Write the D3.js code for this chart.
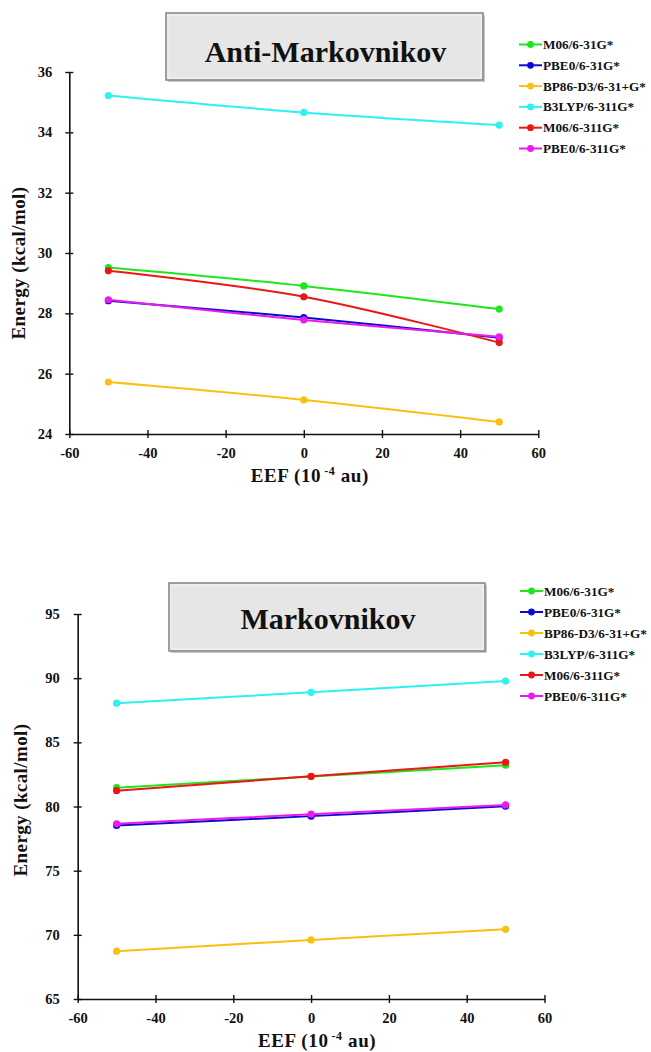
<!DOCTYPE html>
<html><head><meta charset="utf-8">
<script src="https://cdn.jsdelivr.net/npm/d3@7/dist/d3.min.js"></script>
<style>
html,body{margin:0;padding:0;background:#fff;}
svg{display:block;}
text{font-family:"Liberation Serif","Times New Roman",serif;font-weight:bold;fill:#111;}
</style></head>
<body>
<svg id="chart" width="651" height="1052"></svg>
<script>
const xValues = [-50, 0, 50];
const seriesNames = ["M06/6-31G*", "PBE0/6-31G*", "BP86-D3/6-31+G*", "B3LYP/6-311G*", "M06/6-311G*", "PBE0/6-311G*"];
const seriesColors = ["#1de61d", "#0a0ad2", "#fbbf14", "#2ef2f2", "#ec1616", "#ec1aec"];
const xTicks = [-60, -40, -20, 0, 20, 40, 60];

const antiM06_631 = [29.52, 28.91, 28.14];
const antiPBE0_631 = [28.42, 27.86, 27.19];
const antiBP86 = [25.72, 25.13, 24.40];
const antiB3LYP = [35.22, 34.66, 34.24];
const antiM06_6311 = [29.41, 28.55, 27.03];
const antiPBE0_6311 = [28.45, 27.78, 27.22];
const antiYTicks = [24, 26, 28, 30, 32, 34, 36];

const markM06_631 = [81.47, 82.33, 83.22];
const markPBE0_631 = [78.52, 79.25, 80.02];
const markBP86 = [68.73, 69.60, 70.43];
const markB3LYP = [88.05, 88.90, 89.78];
const markM06_6311 = [81.23, 82.35, 83.45];
const markPBE0_6311 = [78.65, 79.40, 80.12];
const markYTicks = [65, 70, 75, 80, 85, 90, 95];

const svg = d3.select("#chart");
const fmt = d => String(d);

function drawPanel(cfg) {
  const g = svg.append("g");
  const x = d3.scaleLinear().domain([-60, 60]).range([cfg.x0, cfg.x1]);
  const y = d3.scaleLinear().domain(cfg.yDomain).range([cfg.y0, cfg.y1]);

  const ax = g.append("g").attr("transform", `translate(0,${cfg.y0})`)
    .call(d3.axisBottom(x).tickValues(xTicks).tickSizeInner(8).tickSizeOuter(0).tickPadding(6).tickFormat(fmt));
  ax.selectAll(".tick line").attr("y1", -4).attr("y2", 4);
  const ay = g.append("g").attr("transform", `translate(${cfg.x0},0)`)
    .call(d3.axisLeft(y).tickValues(cfg.yTicks).tickSizeInner(8).tickSizeOuter(0).tickPadding(cfg.yPad).tickFormat(fmt));
  ay.selectAll(".tick line").attr("x1", -4).attr("x2", 4);
  [ax, ay].forEach(a => {
    a.select(".domain").attr("stroke", "#111").attr("stroke-width", 1.6);
    a.selectAll(".tick line").attr("stroke", "#111").attr("stroke-width", 1.4);
    a.selectAll("text").attr("font-size", 14.5).attr("fill", "#111");
  });

  const line = d3.line().x((d, i) => x(xValues[i])).y(d => y(d)).curve(d3.curveCardinal.tension(0));
  cfg.series.forEach((vals, k) => {
    g.append("path").attr("d", line(vals)).attr("fill", "none")
      .attr("stroke", seriesColors[k]).attr("stroke-width", 2);
    g.selectAll(null).data(vals).enter().append("circle")
      .attr("cx", (d, i) => x(xValues[i])).attr("cy", d => y(d)).attr("r", 3.6)
      .attr("fill", seriesColors[k]);
  });

  const b = cfg.box;
  g.append("rect").attr("x", b[0] + 2).attr("y", b[1] + 2).attr("width", b[2] - b[0]).attr("height", b[3] - b[1])
    .attr("fill", "#c8c8c8");
  g.append("rect").attr("x", b[0]).attr("y", b[1]).attr("width", b[2] - b[0]).attr("height", b[3] - b[1])
    .attr("fill", "#e6e6e6").attr("stroke", "#8a8a8a").attr("stroke-width", 1.6);
  g.append("rect").attr("x", b[0] + 2).attr("y", b[1] + 2).attr("width", b[2] - b[0] - 4).attr("height", b[3] - b[1] - 4)
    .attr("fill", "none").attr("stroke", "#f4f4f4").attr("stroke-width", 1);
  g.append("text").attr("x", (b[0] + b[2]) / 2 + 1).attr("y", cfg.titleY).attr("text-anchor", "middle")
    .attr("font-size", 30).text(cfg.title);

  seriesNames.forEach((name, k) => {
    const ly = cfg.legY + k * cfg.legStep;
    g.append("line").attr("x1", cfg.legX).attr("x2", cfg.legX + 23).attr("y1", ly).attr("y2", ly)
      .attr("stroke", seriesColors[k]).attr("stroke-width", 2);
    g.append("circle").attr("cx", cfg.legX + 11.5).attr("cy", ly).attr("r", 3.4).attr("fill", seriesColors[k]);
    g.append("text").attr("x", cfg.legX + 24).attr("y", ly + 4.5).attr("font-size", 13.2).text(name);
  });

  const xt = g.append("text").attr("x", (cfg.x0 + cfg.x1) / 2 + 6).attr("y", cfg.xTitleY)
    .attr("text-anchor", "middle").attr("font-size", 19).attr("letter-spacing", 0.6);
  xt.append("tspan").text("EEF (10");
  xt.append("tspan").attr("font-size", 12).attr("dx", 3).attr("dy", -7).text("-4");
  xt.append("tspan").attr("dy", 7).text(" au)");
  g.append("text").attr("transform", `translate(${cfg.yTitleX},${cfg.yTitleY}) rotate(-90)`)
    .attr("text-anchor", "middle").attr("font-size", 19).attr("letter-spacing", 0.4).text("Energy (kcal/mol)");
}

drawPanel({
  x0: 69.3, x1: 538.3, y0: 434, y1: 72, yDomain: [24, 36], yTicks: antiYTicks, yPad: 9,
  series: [antiM06_631, antiPBE0_631, antiBP86, antiB3LYP, antiM06_6311, antiPBE0_6311],
  box: [166, 13, 483, 80], title: "Anti-Markovnikov", titleY: 62,
  legX: 519, legY: 44.5, legStep: 20.8, xTitleY: 482, yTitleX: 25, yTitleY: 263
});
drawPanel({
  x0: 77.7, x1: 544.5, y0: 999, y1: 614, yDomain: [65, 95], yTicks: markYTicks, yPad: 10,
  series: [markM06_631, markPBE0_631, markBP86, markB3LYP, markM06_6311, markPBE0_6311],
  box: [169, 583, 485, 651], title: "Markovnikov", titleY: 629,
  legX: 520, legY: 591, legStep: 21, xTitleY: 1047, yTitleX: 27, yTitleY: 800
});
</script>
</body></html>
